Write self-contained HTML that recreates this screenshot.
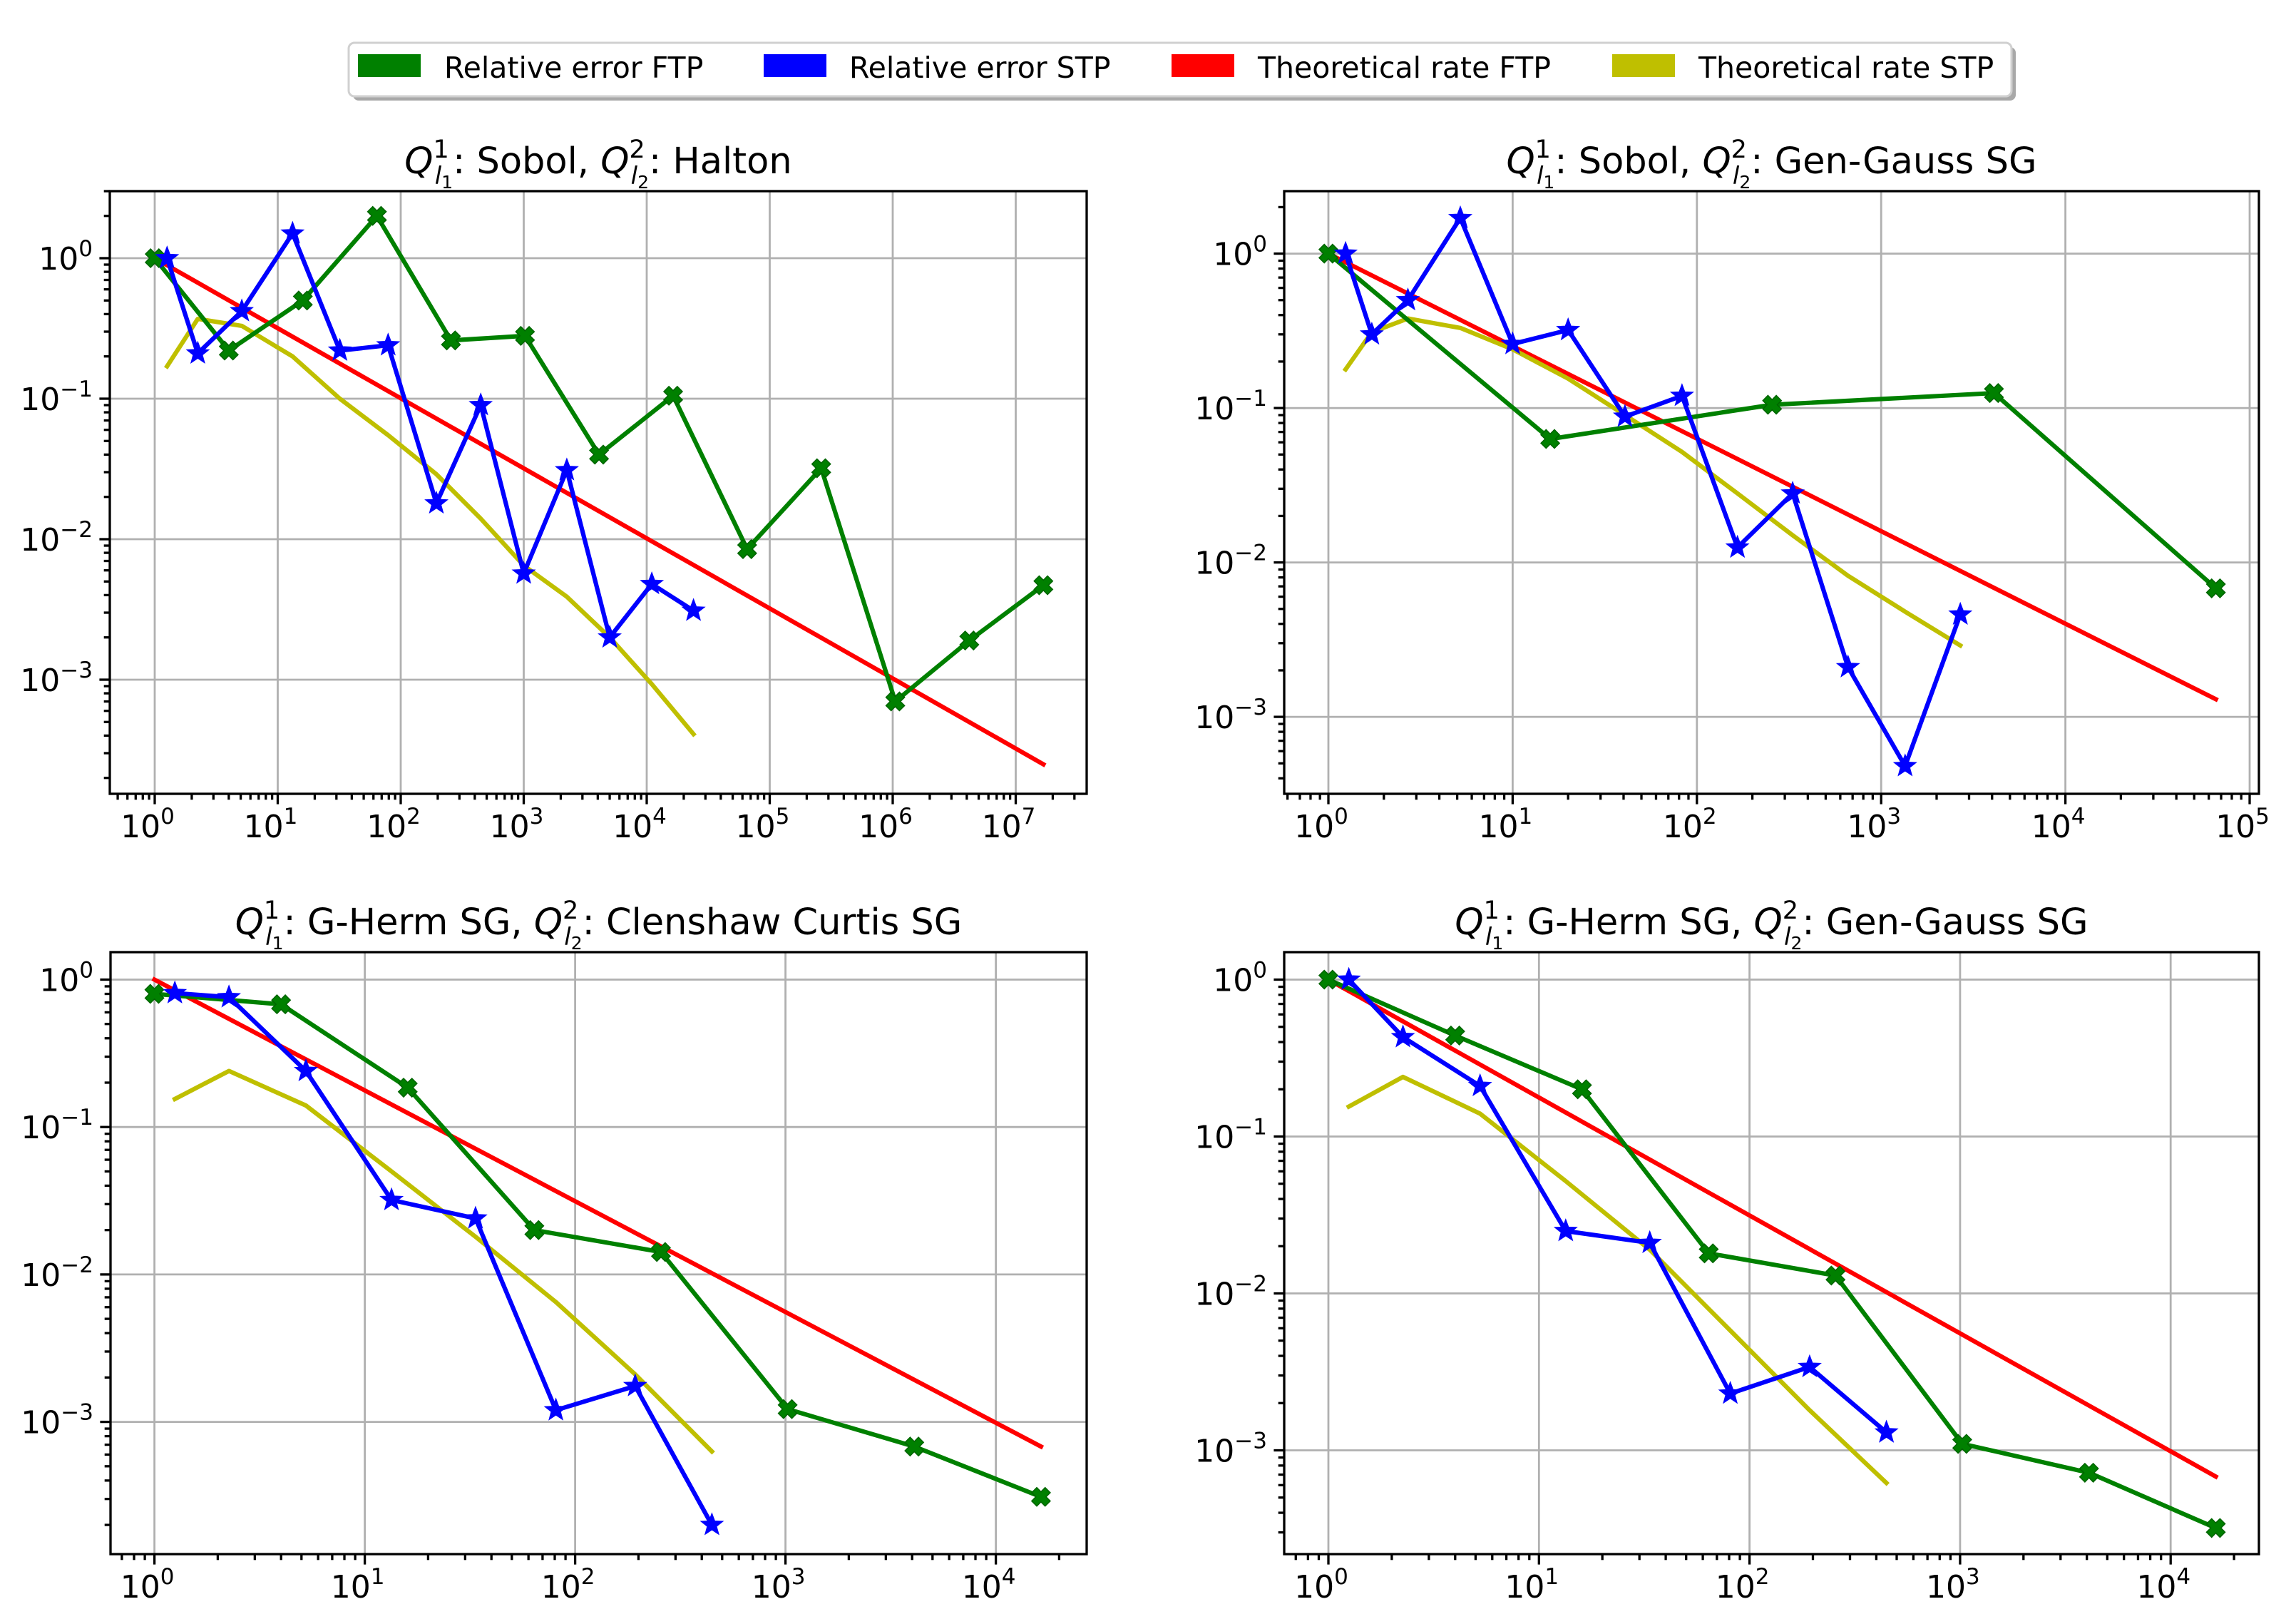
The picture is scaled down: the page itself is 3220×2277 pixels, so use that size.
<!DOCTYPE html>
<html><head><meta charset="utf-8"><style>
html,body{margin:0;padding:0;background:#fff;}
svg{display:block;font-family:"DejaVu Sans","Liberation Sans",sans-serif;}
</style></head><body>
<svg id="fig" width="3220" height="2277" viewBox="0 0 3220 2277" xmlns="http://www.w3.org/2000/svg">
<rect x="0" y="0" width="3220" height="2277" fill="#fff"/>
<g>
<rect x="495" y="66" width="2332" height="75" rx="8" fill="#a8a8a8"/>
<rect x="489" y="60" width="2332" height="75" rx="8" fill="#fff" stroke="#d0d0d0" stroke-width="3"/>
<g><rect x="502" y="76" width="88" height="32" fill="#008000"/><text x="623" y="109" font-size="41">Relative error FTP</text></g>
<g><rect x="1071" y="76" width="88" height="32" fill="#0000ff"/><text x="1191" y="109" font-size="41">Relative error STP</text></g>
<g><rect x="1643" y="76" width="88" height="32" fill="#ff0000"/><text x="1764" y="109" font-size="41">Theoretical rate FTP</text></g>
<g><rect x="2261" y="76" width="88" height="32" fill="#bfbf00"/><text x="2382" y="109" font-size="41">Theoretical rate STP</text></g>
</g>
</svg>
<script>
// ---- Panel 1: Sobol / Halton ----
const p1FtpX = [1,4,16,64,256,1024,4096,16384,65536,262144,1048576,4194304,16777216];
const p1FtpY = [1.0,0.22,0.5,2.0,0.26,0.28,0.04,0.105,0.0085,0.032,0.0007,0.0019,0.0047];
const p1StpX = [1.26,2.24,5.1,13.2,32,79,195,447,1000,2240,5000,11000,24000];
const p1StpY = [1.0,0.21,0.42,1.5,0.22,0.24,0.018,0.09,0.0057,0.031,0.002,0.0048,0.0031];
const p1ThStpY = [0.17,0.37,0.33,0.2,0.1,0.055,0.029,0.014,0.0065,0.0039,0.002,0.00093,0.00041];
const p1ThFtpX = [1,16777216];
const p1ThFtpY = [1,0.00025];
const p1XTicks = ['0','1','2','3','4','5','6','7'];
const p1YTicks = ['0','-1','-2','-3'];
// ---- Panel 2: Sobol / Gen-Gauss SG ----
const p2FtpX = [1,16,256,4096,65536];
const p2FtpY = [1.0,0.063,0.105,0.125,0.0068];
const p2StpX = [1.24,1.72,2.7,5.2,10,20,40.7,83,166,331,661,1349,2690];
const p2StpY = [1.0,0.30,0.5,1.7,0.26,0.32,0.088,0.12,0.0125,0.028,0.0021,0.00048,0.0046];
const p2ThStpY = [0.178,0.31,0.38,0.33,0.24,0.155,0.09,0.052,0.028,0.015,0.0082,0.0048,0.0029];
const p2ThFtpX = [1,65536];
const p2ThFtpY = [1,0.0013];
const p2XTicks = ['0','1','2','3','4','5'];
const p2YTicks = ['0','-1','-2','-3'];
// ---- Panel 3: G-Herm SG / Clenshaw Curtis SG ----
const p3FtpX = [1,4,16,64,256,1024,4096,16384];
const p3FtpY = [0.8,0.68,0.185,0.020,0.0142,0.00122,0.00068,0.00031];
const p3StpX = [1.25,2.26,5.25,13.4,33.6,81,193,447];
const p3StpY = [0.81,0.76,0.24,0.032,0.024,0.0012,0.00175,0.0002];
const p3ThStpY = [0.155,0.24,0.14,0.05,0.018,0.0065,0.0021,0.00063];
const p3ThFtpX = [1,16384];
const p3ThFtpY = [1,0.00068];
const p3XTicks = ['0','1','2','3','4'];
const p3YTicks = ['0','-1','-2','-3'];
// ---- Panel 4: G-Herm SG / Gen-Gauss SG ----
const p4FtpX = [1,4,16,64,256,1024,4096,16384];
const p4FtpY = [1.0,0.44,0.2,0.018,0.013,0.0011,0.00072,0.00032];
const p4StpX = [1.25,2.26,5.25,13.4,33.6,81,193,447];
const p4StpY = [1.0,0.43,0.21,0.025,0.021,0.0023,0.0034,0.0013];
const p4ThStpY = [0.155,0.24,0.14,0.052,0.019,0.0058,0.0018,0.00062];
const p4ThFtpX = [1,16384];
const p4ThFtpY = [1,0.00068];
const p4XTicks = ['0','1','2','3','4'];
const p4YTicks = ['0','-1','-2','-3'];

const NS = 'http://www.w3.org/2000/svg';
const svg = document.getElementById('fig');
function mk(tag, attrs, parent){
  const e = document.createElementNS(NS, tag);
  for (const k in attrs) e.setAttribute(k, attrs[k]);
  parent.appendChild(e);
  return e;
}

const panels = [
  {name:'panel-sobol-halton', l:154,r:1524,t:268,b:1113, x0:217,xd:172.5, y0:362,yd:197,
   a:'Sobol', b2:'Halton', ftpX:p1FtpX, ftpY:p1FtpY, stpX:p1StpX, stpY:p1StpY, thS:p1ThStpY, thFX:p1ThFtpX, thFY:p1ThFtpY, xt:p1XTicks, yt:p1YTicks},
  {name:'panel-sobol-gengauss', l:1801,r:3168,t:268,b:1113, x0:1863,xd:258.4, y0:355.6,yd:216.5,
   a:'Sobol', b2:'Gen-Gauss SG', ftpX:p2FtpX, ftpY:p2FtpY, stpX:p2StpX, stpY:p2StpY, thS:p2ThStpY, thFX:p2ThFtpX, thFY:p2ThFtpY, xt:p2XTicks, yt:p2YTicks},
  {name:'panel-gherm-clenshaw', l:155,r:1524,t:1335,b:2179, x0:216.6,xd:295, y0:1373.5,yd:206.7,
   a:'G-Herm SG', b2:'Clenshaw Curtis SG', ftpX:p3FtpX, ftpY:p3FtpY, stpX:p3StpX, stpY:p3StpY, thS:p3ThStpY, thFX:p3ThFtpX, thFY:p3ThFtpY, xt:p3XTicks, yt:p3YTicks},
  {name:'panel-gherm-gengauss', l:1801,r:3168,t:1335,b:2179, x0:1863,xd:295.3, y0:1373.5,yd:220,
   a:'G-Herm SG', b2:'Gen-Gauss SG', ftpX:p4FtpX, ftpY:p4FtpY, stpX:p4StpX, stpY:p4StpY, thS:p4ThStpY, thFX:p4ThFtpX, thFY:p4ThFtpY, xt:p4XTicks, yt:p4YTicks}
];

function starPts(cx, cy, R){
  const pts=[]; const r=R*0.42;
  for(let i=0;i<10;i++){
    const a=-Math.PI/2+i*Math.PI/5; const rr=i%2?r:R;
    pts.push((cx+rr*Math.cos(a)).toFixed(1)+','+(cy+rr*Math.sin(a)).toFixed(1));
  }
  return pts.join(' ');
}
function xPts(cx, cy, s){
  const w=s*0.55, L=s;
  const base=[[-L,-L+w],[-L+w,-L],[0,-w],[L-w,-L],[L,-L+w],[w,0],[L,L-w],[L-w,L],[0,w],[-L+w,L],[-L,L-w],[-w,0]];
  return base.map(p=>(cx+p[0]).toFixed(1)+','+(cy+p[1]).toFixed(1)).join(' ');
}

panels.forEach((P, idx) => {
  const X = v => P.x0 + Math.log10(v)*P.xd;
  const Y = v => P.y0 - Math.log10(v)*P.yd;
  const g = mk('g', {}, svg);
  
  
  const cid = 'clip'+idx;
  const cp = mk('clipPath', {id:cid}, g);
  mk('rect', {x:P.l-20, y:P.t-20, width:P.r-P.l+40, height:P.b-P.t+40}, cp);

  const cx = (P.l+P.r)/2, ty = P.t-25;
  const title = mk('text', {x:cx, y:ty, 'font-size':51, 'text-anchor':'middle'}, g);
  
  
  title.innerHTML = '<tspan font-style="italic">Q</tspan><tspan font-size="35" dy="-22">1</tspan><tspan font-size="34" font-style="italic" dx="-20" dy="37">l</tspan><tspan font-size="25" dy="6">1</tspan><tspan dy="-21">: '+P.a+', </tspan><tspan font-style="italic">Q</tspan><tspan font-size="35" dy="-22">2</tspan><tspan font-size="34" font-style="italic" dx="-20" dy="37">l</tspan><tspan font-size="25" dy="6">2</tspan><tspan dy="-21">: '+P.b2+'</tspan>';

  const grid = mk('g', {stroke:'#b0b0b0', 'stroke-width':2.8}, g);
  
  
  const ticks = mk('g', {stroke:'#000', 'stroke-width':3.3}, g);
  const labels = mk('g', {'font-size':44}, g);
  
  
  const dMinX = Math.floor((P.l-P.x0)/P.xd), dMaxX = Math.ceil((P.r-P.x0)/P.xd);
  for (let d=dMinX; d<=dMaxX; d++){
    for (let k=1;k<10;k++){
      const px = P.x0 + (d+Math.log10(k))*P.xd;
      if (px < P.l-0.5 || px > P.r+0.5) continue;
      if (k===1){
        mk('line', {x1:px,y1:P.t,x2:px,y2:P.b}, grid);
        mk('line', {x1:px,y1:P.b,x2:px,y2:P.b+14.6}, ticks);
      } else {
        mk('line', {x1:px,y1:P.b,x2:px,y2:P.b+8.3}, ticks);
      }
    }
  }
  P.xt.forEach(e => {
    const px = X(Math.pow(10, parseFloat(e)));
    const t = mk('text', {x:px-10, y:P.b+61, 'text-anchor':'middle'}, labels);
    
    
    t.innerHTML = '10<tspan font-size="31" dy="-19">'+e.replace('-','\u2212')+'</tspan>';
  });
  const dMinY = Math.floor((P.y0-P.b)/P.yd), dMaxY = Math.ceil((P.y0-P.t)/P.yd);
  for (let d=dMinY; d<=dMaxY; d++){
    for (let k=1;k<10;k++){
      const py = P.y0 - (d+Math.log10(k))*P.yd;
      if (py < P.t-0.5 || py > P.b+0.5) continue;
      if (k===1){
        mk('line', {x1:P.l,y1:py,x2:P.r,y2:py}, grid);
        mk('line', {x1:P.l-14.6,y1:py,x2:P.l,y2:py}, ticks);
      } else {
        mk('line', {x1:P.l-8.3,y1:py,x2:P.l,y2:py}, ticks);
      }
    }
  }
  P.yt.forEach(e => {
    const py = Y(Math.pow(10, parseFloat(e)));
    const t = mk('text', {x:P.l-24, y:py+16, 'text-anchor':'end'}, labels);
    
    
    t.innerHTML = '10<tspan font-size="31" dy="-19">'+e.replace('-','\u2212')+'</tspan>';
  });

  const plot = mk('g', {'clip-path':'url(#'+cid+')'}, g);
  function line(xs, ys, color, nm){
    const pl = mk('polyline', {points: xs.map((x,i)=>X(x).toFixed(1)+','+Y(ys[i]).toFixed(1)).join(' '), fill:'none', stroke:color, 'stroke-width':6.2, 'stroke-linejoin':'round', 'stroke-linecap':'square'}, plot);
    
    
  }
  line(P.thFX, P.thFY, '#ff0000', 'theoretical-rate-ftp-line');
  line(P.stpX, P.thS, '#bfbf00', 'theoretical-rate-stp-line');
  line(P.ftpX, P.ftpY, '#008000', 'relative-error-ftp-line');
  P.ftpX.forEach((x,i) => {
    const m = mk('polygon', {points:xPts(X(x), Y(P.ftpY[i]), 13), fill:'#008000', stroke:'#006400', 'stroke-width':1.5}, plot);
    
    
  });
  line(P.stpX, P.stpY, '#0000ff', 'relative-error-stp-line');
  P.stpX.forEach((x,i) => {
    const m = mk('polygon', {points:starPts(X(x), Y(P.stpY[i]), 15), fill:'#0000ff', stroke:'#0000ff', 'stroke-width':2}, plot);
    
    
  });

  const frame = mk('rect', {x:P.l, y:P.t, width:P.r-P.l, height:P.b-P.t, fill:'none', stroke:'#000', 'stroke-width':3.3}, g);
  
  
});
</script>
</body></html>
